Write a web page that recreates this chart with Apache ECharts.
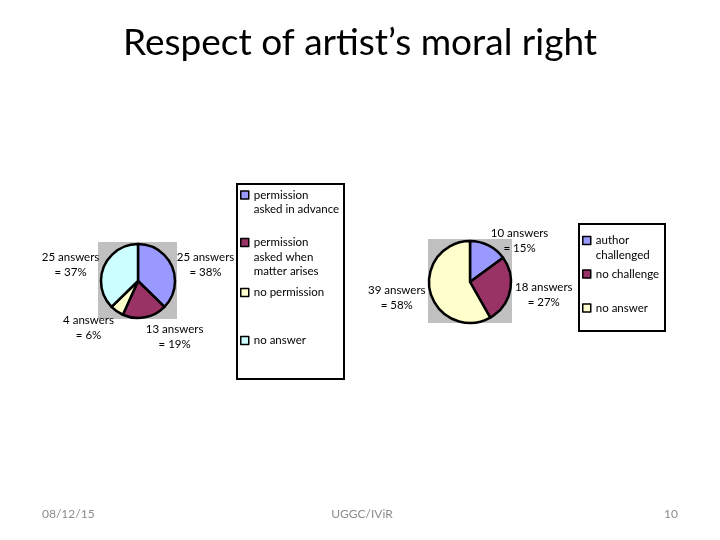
<!doctype html>
<html lang="en">
    <head>
        <meta charset="UTF-8" />
        <title>Respect of artist's moral right</title>
        <script src="https://cdn.jsdelivr.net/npm/echarts@6.0.0/dist/echarts.min.js"></script>
        <style>
            html, body { margin: 0; padding: 0; background: #fff; }
        </style>
    </head>
    <body>
        <!-- Chart container -->
        <div id="main" style="width: 720px; height: 540px"></div>

        <script>
            // Left pie: asking permission
            const leftNames = [
                "permission asked in advance",
                "permission asked when matter arises",
                "no permission",
                "no answer",
            ];
            const leftLegendLines = [
                "permission\nasked in advance",
                "permission\nasked when\nmatter arises",
                "no permission",
                "no answer",
            ];
            const leftCounts = [25, 13, 4, 25];
            const leftPct = [38, 19, 6, 37];
            const leftColors = ["#9999FF", "#993366", "#FFFFCC", "#CCFFFF"];

            // Right pie: author challenged
            const rightNames = ["author challenged", "no challenge", "no answer"];
            const rightLegendLines = ["author\nchallenged", "no challenge", "no answer"];
            const rightCounts = [10, 18, 39];
            const rightPct = [15, 27, 58];
            const rightColors = ["#9999FF", "#993366", "#FFFFCC"];

            const FONT = "Lato";
            const LH = 14.5;

            const myChart = echarts.init(document.getElementById("main"));

            // Excel-like outside labels: box touches a point just outside the slice middle,
            // lines centred, labels under the pie hang below that point
            function labelPlacer(counts, center, r) {
                const total = counts.reduce((a, b) => a + b, 0);
                return function (params) {
                    let before = 0;
                    for (let i = 0; i < params.dataIndex; i++) before += counts[i];
                    const frac = (before + counts[params.dataIndex] / 2) / total;
                    const a = ((90 - frac * 360) * Math.PI) / 180;
                    const ux = Math.cos(a), uy = -Math.sin(a);
                    const w = params.labelRect.width, h = params.labelRect.height;
                    const ax = center[0] + (r + 5) * ux;
                    const ay = center[1] + (r + 5) * uy;
                    return {
                        x: ax + (ux >= 0 ? 1 : -1) * w / 2,
                        y: ay + Math.max(uy, 0) * h / 2,
                        align: "center",
                        verticalAlign: "middle",
                    };
                };
            }

            function pieSeries(names, counts, pct, colors, center, radius) {
                return {
                    type: "pie",
                    center: center,
                    radius: radius,
                    startAngle: 90,
                    clockwise: true,
                    avoidLabelOverlap: false,
                    silent: true,
                    data: names.map((n, i) => ({
                        name: n,
                        value: counts[i],
                        itemStyle: { color: colors[i] },
                    })),
                    itemStyle: { borderColor: "#000", borderWidth: 2.5 },
                    label: {
                        show: true,
                        position: "outside",
                        fontFamily: FONT,
                        fontSize: 11.5,
                        lineHeight: 15,
                        color: "#000",
                        formatter: (p) => p.value + " answers\n= " + pct[p.dataIndex] + "%",
                    },
                    labelLine: { show: false },
                    labelLayout: labelPlacer(counts, center, radius),
                };
            }

            // one legend per entry so the spacing follows the original;
            // blank lines in front keep the square level with the first text line
            function legendEntries(names, lines, colors, left, firstLineY) {
                return names.map((n, i) => {
                    const k = lines[i].split("\n").length;
                    return {
                        left: left,
                        top: firstLineY[i] - (k - 0.5) * LH,
                        orient: "vertical",
                        padding: 0,
                        selectedMode: false,
                        itemWidth: 8,
                        itemHeight: 8,
                        icon: "rect",
                        itemStyle: { borderColor: "#000", borderWidth: 1.5 },
                        formatter: () => "\u00a0\n".repeat(k - 1) + lines[i],
                        textStyle: {
                            fontFamily: FONT,
                            fontSize: 11.5,
                            lineHeight: LH,
                            color: "#000",
                        },
                        data: [{ name: n, itemStyle: { color: colors[i] } }],
                    };
                });
            }

            const options = {
                backgroundColor: "#fff",
                animation: false,
                title: {
                    text: "Respect of artist\u2019s moral right",
                    left: "center",
                    top: 25,
                    padding: 0,
                    textStyle: {
                        fontFamily: FONT,
                        fontSize: 37,
                        fontWeight: "normal",
                        color: "#000",
                    },
                },
                legend: [
                    ...legendEntries(leftNames, leftLegendLines, leftColors, 240, [195, 242.5, 292.5, 340.5]),
                    ...legendEntries(rightNames, rightLegendLines, rightColors, 582, [240.5, 274, 308]),
                ],
                graphic: [
                    // plot area backgrounds
                    { type: "rect", z: -1, shape: { x: 98, y: 242, width: 79, height: 77 }, style: { fill: "#C0C0C0" } },
                    { type: "rect", z: -1, shape: { x: 428, y: 239, width: 84, height: 84 }, style: { fill: "#C0C0C0" } },
                    // legend frames
                    { type: "rect", shape: { x: 237, y: 184, width: 107, height: 195 }, style: { fill: "none", stroke: "#000", lineWidth: 2 } },
                    { type: "rect", shape: { x: 579, y: 224, width: 86, height: 107 }, style: { fill: "none", stroke: "#000", lineWidth: 2 } },
                    // slide footer
                    { type: "text", x: 42, y: 514, style: { text: "08/12/15", fontFamily: FONT, fontSize: 12, fill: "#8c8c8c", verticalAlign: "middle" } },
                    { type: "text", x: 362, y: 514, style: { text: "UGGC/IViR", fontFamily: FONT, fontSize: 12, fill: "#8c8c8c", align: "center", verticalAlign: "middle" } },
                    { type: "text", x: 678, y: 514, style: { text: "10", fontFamily: FONT, fontSize: 12, fill: "#8c8c8c", align: "right", verticalAlign: "middle" } },
                ],
                series: [
                    pieSeries(leftNames, leftCounts, leftPct, leftColors, [138, 281], 37),
                    pieSeries(rightNames, rightCounts, rightPct, rightColors, [470, 282], 41),
                ],
            };

            myChart.setOption(options);
        </script>
    </body>
</html>
